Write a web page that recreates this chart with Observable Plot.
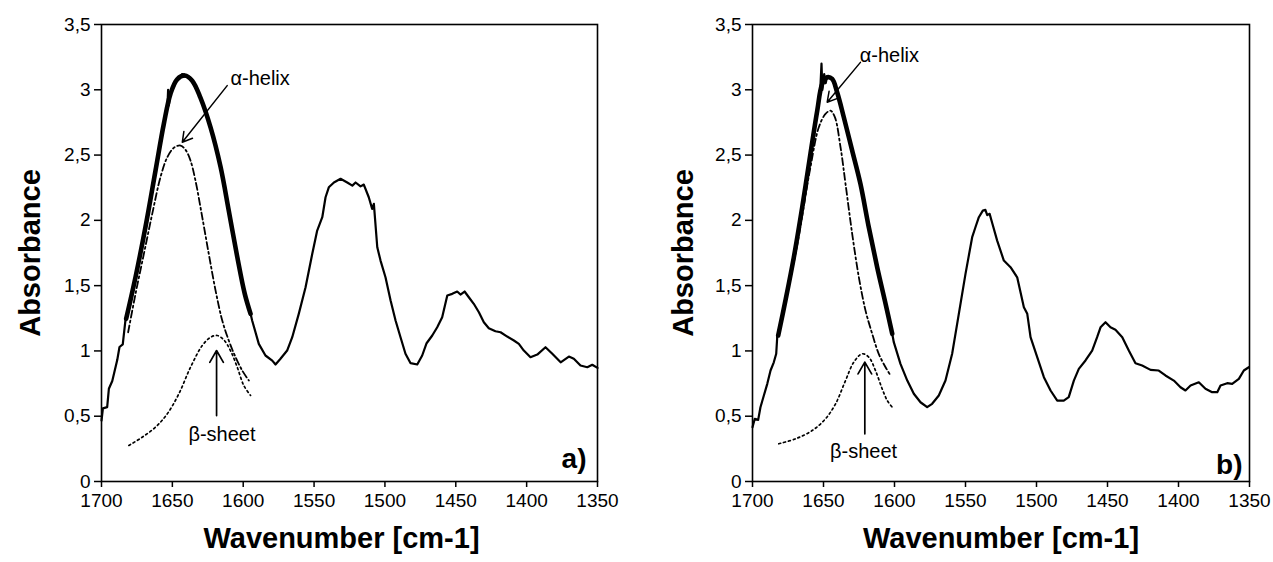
<!DOCTYPE html>
<html>
<head>
<meta charset="utf-8">
<script src="https://cdn.jsdelivr.net/npm/d3@7"></script>
<script src="https://cdn.jsdelivr.net/npm/@observablehq/plot@0.6"></script>
<style>
  html, body { margin: 0; padding: 0; background: #fff; }
  #wrap { display: flex; width: 1273px; height: 562px; }
</style>
</head>
<body>
<div id="wrap"></div>
<script>
// ---------- axis ticks ----------
const xTicks = [1700, 1650, 1600, 1550, 1500, 1450, 1400, 1350];
const yTicks = [0, 0.5, 1, 1.5, 2, 2.5, 3, 3.5];
const xLabel = "Wavenumber [cm-1]";
const yLabel = "Absorbance";

// ---------- panel a ----------
const specA_w = [1700,1699,1696,1694.8,1692.4,1688.9,1687.3,1685,1683,1680,1676,1669,1662,1656,1653.5,1653,1652.5,1651.3,1646.6,1643,1641.2,1638,1636,1630.2,1623,1616,1610.2,1604.2,1598.9,1594.8,1593.7,1589,1584.3,1579.5,1577.2,1573.7,1569,1565.4,1560.8,1556,1551.3,1547.8,1544.2,1541.9,1539.6,1536,1531.3,1526.6,1523,1520.7,1517.2,1514.9,1511.4,1509,1507.8,1505.4,1503.1,1499.6,1496,1492.5,1489,1485.5,1481.9,1477.2,1473.7,1470.6,1466.6,1463.1,1459.6,1456,1452.5,1449,1446.7,1443.8,1440.8,1437.3,1433.7,1430.2,1426.7,1422,1418.4,1413.7,1409,1405.5,1402,1397.3,1392.5,1386.7,1381.9,1376,1370.2,1366.7,1362,1357.2,1353.7,1350];
const specA_abs = [0.467,0.56,0.57,0.71,0.77,0.93,1.03,1.05,1.245,1.34,1.565,1.947,2.38,2.74,2.86,3.0,2.88,2.97,3.08,3.12,3.1,3.1,3.07,2.94,2.71,2.41,2.075,1.72,1.437,1.284,1.233,1.054,0.965,0.926,0.896,0.94,1.003,1.105,1.284,1.488,1.743,1.922,2.024,2.177,2.253,2.29,2.318,2.29,2.266,2.29,2.26,2.274,2.177,2.088,2.126,1.794,1.692,1.564,1.386,1.233,1.105,0.978,0.906,0.896,0.965,1.059,1.118,1.181,1.258,1.424,1.437,1.455,1.432,1.455,1.411,1.361,1.296,1.22,1.174,1.151,1.143,1.11,1.08,1.054,1.003,0.952,0.972,1.028,0.978,0.913,0.957,0.94,0.888,0.875,0.894,0.87];
const fitA_w = [1682.6,1676,1669,1661.9,1656,1651.3,1646.6,1641.2,1636,1630.2,1623,1616,1610.2,1604.2,1598.9,1594.8];
const fitA_abs = [1.246,1.565,1.947,2.38,2.74,2.97,3.08,3.11,3.07,2.94,2.71,2.41,2.075,1.72,1.437,1.284];
const helixA_w = [1681.2,1676,1670.1,1664.2,1658.4,1653.6,1649,1644.2,1640.7,1637.2,1633.7,1628.9,1624.3,1619.5,1614.8,1610.2,1605.4,1600.7,1596];
const helixA_abs = [1.143,1.437,1.743,2.05,2.33,2.483,2.555,2.573,2.54,2.458,2.305,2.024,1.743,1.462,1.233,1.08,0.952,0.85,0.773];
const sheetA_w = [1680.7,1671.3,1661.9,1653.6,1645.4,1637.2,1628.9,1623,1618.3,1613.7,1609,1604.2,1599.6,1594.8];
const sheetA_abs = [0.276,0.339,0.416,0.518,0.672,0.875,1.041,1.105,1.118,1.085,1.003,0.875,0.735,0.659];

// ---------- panel b ----------
const specB_w = [1700,1698.4,1696,1694.4,1692,1689.6,1687.3,1685,1683.3,1682.6,1676.8,1670.9,1665,1659.2,1654.4,1652.5,1651.4,1650.8,1649.5,1648.5,1647.4,1643.9,1640.4,1635.7,1629.8,1624,1618.1,1612.2,1606.3,1601.6,1600.5,1595.8,1591,1586.4,1581.7,1577,1573.5,1568.8,1564.1,1559.4,1554.7,1550,1545.3,1543,1540.6,1537.8,1536,1534.7,1533,1531.2,1527.7,1523,1518.3,1513.6,1508.9,1506.5,1504.2,1499.5,1494.8,1490.1,1485.4,1480.8,1477.3,1473.7,1470.2,1465.5,1460.8,1457.3,1454.9,1451.4,1447.9,1444.4,1439.6,1435,1430.3,1425.6,1419.7,1413.9,1409.2,1403.3,1398.6,1395.1,1391.5,1385.7,1381,1376.3,1372.7,1370.4,1365.7,1362.2,1357.5,1354,1350.5];
const specB_abs = [0.416,0.48,0.472,0.569,0.659,0.748,0.85,0.913,0.978,1.105,1.386,1.717,2.1,2.509,2.84,2.95,3.2,3.0,3.12,3.05,3.1,3.083,2.981,2.79,2.534,2.28,1.947,1.641,1.361,1.131,1.067,0.901,0.773,0.672,0.607,0.569,0.595,0.659,0.773,0.978,1.284,1.59,1.871,1.947,2.024,2.075,2.08,2.04,2.05,1.98,1.845,1.692,1.641,1.564,1.335,1.284,1.105,0.952,0.799,0.697,0.62,0.62,0.646,0.773,0.863,0.927,1.003,1.105,1.181,1.22,1.181,1.162,1.105,1.003,0.906,0.888,0.855,0.85,0.812,0.773,0.722,0.697,0.735,0.76,0.71,0.684,0.684,0.735,0.753,0.748,0.786,0.85,0.875];
const fitB_w = [1681.9,1676.8,1670.9,1665,1659.2,1654.4,1650.9,1647.4,1643.9,1640.4,1635.7,1629.8,1624,1618.1,1612.2,1606.3,1601.6];
const fitB_abs = [1.118,1.386,1.717,2.1,2.509,2.84,3.045,3.096,3.083,2.981,2.79,2.534,2.28,1.947,1.641,1.361,1.131];
const helixB_w = [1682.6,1669.7,1659.2,1653.3,1648.6,1645.1,1642,1638,1634.5,1629.8,1625.1,1620.4,1615.7,1611.1,1606.3,1602.8];
const helixB_abs = [1.105,1.743,2.407,2.713,2.815,2.84,2.79,2.56,2.28,1.897,1.564,1.309,1.131,0.978,0.875,0.812];
const sheetB_w = [1681.5,1669.7,1658,1648.6,1641.5,1634.5,1628.7,1622.7,1618.1,1613.4,1608.7,1605.1,1601.6];
const sheetB_abs = [0.289,0.327,0.39,0.48,0.595,0.773,0.913,0.978,0.952,0.85,0.71,0.62,0.569];

// annotations [x, y] in data units
const panels = [
  {
    tag: "a)", tagDx: -11, tagDy: -14, width: 636, ml: 101, mr: 39, yLabelDx: -71, xLabelDx: -8,
    spec: [specA_w, specA_abs], fit: [fitA_w, fitA_abs], helix: [helixA_w, helixA_abs], sheet: [sheetA_w, sheetA_abs],
    helixText: [1609, 3.086], helixArrow: [1611.3, 3.032, 1643.0, 2.598],
    sheetText: [1615, 0.356], sheetArrow: [1618.8, 0.505, 1618.8, 1.003]
  },
  {
    tag: "b)", tagDx: -7, tagDy: -8, width: 637, ml: 116, mr: 24, yLabelDx: -69, xLabelDx: 0,
    spec: [specB_w, specB_abs], fit: [fitB_w, fitB_abs], helix: [helixB_w, helixB_abs], sheet: [sheetB_w, sheetB_abs],
    helixText: [1624.5, 3.262], helixArrow: [1624, 3.21, 1647.4, 2.905],
    sheetText: [1621.8, 0.226], sheetArrow: [1620.9, 0.365, 1620.9, 0.914]
  }
];

const toRows = ([ws, as]) => ws.map((w, i) => ({w, a: as[i]}));
const fmtY = d => String(d).replace(".", ",");

function makePanel(p) {
  return Plot.plot({
    width: p.width, height: 562,
    marginLeft: p.ml, marginRight: p.mr, marginTop: 24, marginBottom: 81,
    style: {fontFamily: "'Liberation Sans', Arial, sans-serif", background: "#fff", color: "#000", overflow: "visible"},
    x: {domain: [1700, 1350]},
    y: {domain: [0, 3.5]},
    marks: [
      Plot.axisY({ticks: yTicks, tickFormat: fmtY, tickSize: 7, tickPadding: 4, fontSize: 19, strokeWidth: 1.5, label: null}),
      Plot.axisX({ticks: xTicks, tickFormat: d => String(d), tickSize: 6, tickPadding: 6, fontSize: 19, strokeWidth: 1.5, label: null}),
      Plot.line(toRows(p.sheet), {x: "w", y: "a", stroke: "#000", strokeWidth: 1.7, strokeDasharray: "2,3", curve: "catmull-rom"}),
      Plot.line(toRows(p.helix), {x: "w", y: "a", stroke: "#000", strokeWidth: 1.8, strokeDasharray: "7,3,2,3", curve: "catmull-rom"}),
      Plot.line(toRows(p.spec), {x: "w", y: "a", stroke: "#000", strokeWidth: 2.2, strokeLinejoin: "round"}),
      Plot.line(toRows(p.fit), {x: "w", y: "a", stroke: "#000", strokeWidth: 4.6, curve: "catmull-rom"}),
      Plot.arrow([p.helixArrow], {x1: d => d[0], y1: d => d[1], x2: d => d[2], y2: d => d[3], stroke: "#000", strokeWidth: 1.5, headLength: 11, insetStart: 0, insetEnd: 0}),
      Plot.arrow([p.sheetArrow], {x1: d => d[0], y1: d => d[1], x2: d => d[2], y2: d => d[3], stroke: "#000", strokeWidth: 1.7, headLength: 12, insetStart: 0, insetEnd: 0}),
      Plot.text([p.helixText], {x: d => d[0], y: d => d[1], text: () => "α-helix", textAnchor: "start", fontSize: 20, fill: "#000"}),
      Plot.text([p.sheetText], {x: d => d[0], y: d => d[1], text: () => "β-sheet", textAnchor: "middle", fontSize: 20, fill: "#000"}),
      Plot.text([p.tag], {frameAnchor: "bottom-right", textAnchor: "end", lineAnchor: "bottom", dx: p.tagDx, dy: p.tagDy, fontSize: 28, fontWeight: "bold", fill: "#000"}),
      Plot.text([yLabel], {frameAnchor: "left", textAnchor: "middle", rotate: -90, dx: p.yLabelDx, fontSize: 29, fontWeight: "bold", fill: "#000"}),
      Plot.text([xLabel], {frameAnchor: "bottom", textAnchor: "middle", dx: p.xLabelDx, dy: 66, fontSize: 29, fontWeight: "bold", fill: "#000"}),
      Plot.frame({stroke: "#000", strokeWidth: 1.6})
    ]
  });
}

const wrap = document.getElementById("wrap");
panels.forEach(p => wrap.appendChild(makePanel(p)));
</script>
</body>
</html>
